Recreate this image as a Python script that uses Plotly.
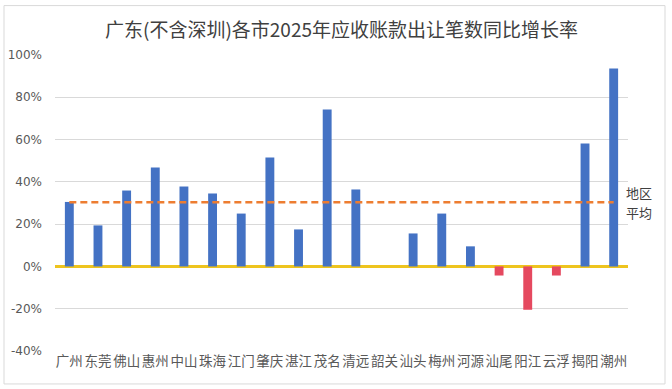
import plotly.graph_objects as go

cities = ["广州","东莞","佛山","惠州","中山","珠海","江门","肇庆","湛江","茂名",
          "清远","韶关","汕头","梅州","河源","汕尾","阳江","云浮","揭阳","潮州"]
growth = [30.5, 19.4, 35.9, 46.8, 37.8, 34.5, 25.0, 51.5, 17.5, 74.2,
          36.4, 0.0, 15.6, 25.0, 9.5, -4.3, -20.5, -4.3, 58.2, 93.6]
region_avg = 30.4
avg_label_lines = ["地区", "平均"]
y_ticks = [-40, -20, 0, 20, 40, 60, 80, 100]
title = "广东(不含深圳)各市2025年应收账款出让笔数同比增长率"

bar_colors = ["#4472C4" if v >= 0 else "#E5495F" for v in growth]

fig = go.Figure()
fig.add_trace(go.Bar(x=cities, y=growth, marker_color=bar_colors, width=0.31,
                     marker_line_width=0, showlegend=False, hoverinfo="skip"))
fig.add_trace(go.Scatter(x=cities, y=[region_avg]*len(cities), mode="lines",
                         line=dict(color="#ED7D31", width=2.5, dash="7px,4px"),
                         showlegend=False, hoverinfo="skip"))

for txt, shift in zip(avg_label_lines, [10, -10]):
    fig.add_annotation(x=1.0, xref="paper", xanchor="left", xshift=-3, y=region_avg, yref="y",
                       yshift=shift, text=txt, showarrow=False, align="left", borderpad=0,
                       font=dict(family="Noto Sans CJK SC", size=13, color="#404040"))

# chart frame
W, H = 573, 296.5
fig.add_shape(type="rect", xref="paper", yref="paper",
              x0=(4-55)/W, x1=(665-55)/W, y0=(351-384)/H, y1=(351-5)/H,
              line=dict(color="#D9D9D9", width=1))

fig.update_layout(
    width=672, height=389,
    margin=dict(l=55, r=44, t=54.5, b=38, autoexpand=False),
    paper_bgcolor="white", plot_bgcolor="white",
    title=dict(text=title, x=0.5, xref="paper", y=1 - 30/389, yanchor="middle",
               font=dict(family="Noto Sans CJK SC", size=19, color="#404040")),
    bargap=0.69,
    xaxis=dict(showgrid=False, showline=False, ticks="", tickangle=0, automargin=False,
               tickfont=dict(family="Noto Sans CJK SC", size=13.5, color="#595959")),
    yaxis=dict(range=[-40, 100], tickvals=y_ticks, automargin=False,
               ticktext=[f"{v}%" for v in y_ticks],
               showgrid=True, gridcolor="#D9D9D9", gridwidth=1,
               zeroline=True, zerolinecolor="#EEC41E", zerolinewidth=2.5,
               tickfont=dict(family="DejaVu Sans", size=12, color="#595959"),
               ticklabelstandoff=12),
)

fig.write_html("out.html", config={"displayModeBar": False},
               post_script="document.body.style.margin='0';document.body.style.overflow='hidden';")
